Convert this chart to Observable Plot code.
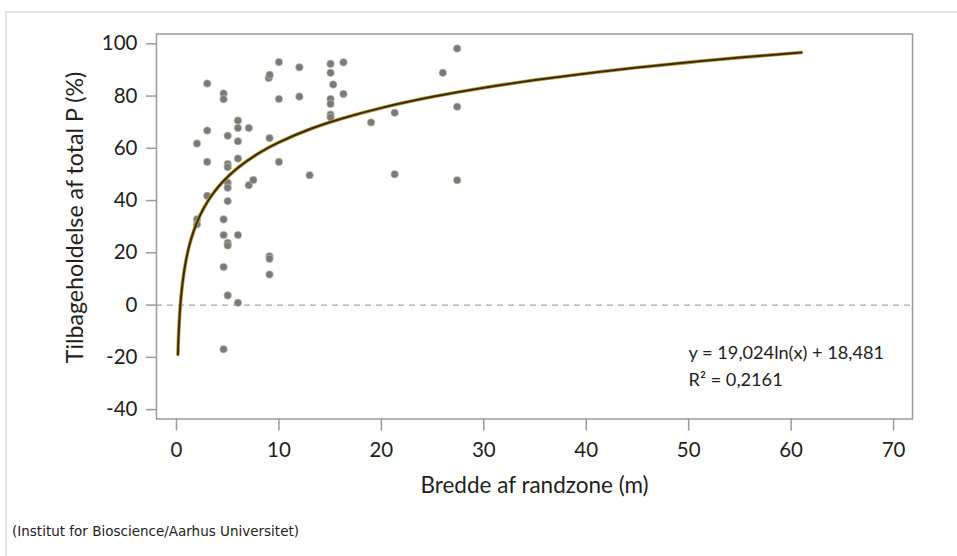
<!DOCTYPE html>
<html>
<head>
<meta charset="utf-8">
<script src="https://cdn.jsdelivr.net/npm/d3@7"></script>
<script src="https://cdn.jsdelivr.net/npm/@observablehq/plot@0.6"></script>
<style>
  html, body { margin: 0; padding: 0; background: #fff; }
  #page { position: relative; width: 957px; height: 556px; overflow: hidden; }
  #border { position: absolute; left: 5px; top: 11px; right: 0; bottom: 0;
            border-left: 2px solid #dde5e2; border-top: 2px solid #dde5e2; }
  #chart { position: absolute; left: 0; top: 0; }
  #caption { position: absolute; left: 12px; top: 522px; font-family: "DejaVu Sans", sans-serif;
             font-size: 13.5px; line-height: 18px; color: #222; }
</style>
</head>
<body>
<div id="page">
  <div id="border"></div>
  <div id="chart"></div>
  <div id="caption">(Institut for Bioscience/Aarhus Universitet)</div>
</div>
<script>
// Observed data: width of buffer zone (m) and retention of total P (%)
const widths = [
  2.0, 2.0, 2.0,
  3.0, 3.0, 3.0, 3.0,
  4.6, 4.6, 4.6, 4.6, 4.6, 4.6,
  5.0, 5.0, 5.0, 5.0, 5.0, 5.0, 5.0, 5.0, 5.0,
  6.0, 6.0, 6.0, 6.0, 6.0, 6.0,
  7.06, 7.06, 7.5,
  9.0, 9.1, 9.08, 9.08, 9.08, 9.08,
  10, 10, 10,
  12, 12, 13,
  15.04, 15.04, 15.04, 15.04, 15.04, 15.04, 15.3,
  16.3, 16.3, 19, 21.3, 21.3, 26,
  27.4, 27.4, 27.4
];
const retention = [
  61.8, 32.8, 30.9,
  84.8, 66.8, 54.8, 41.8,
  81, 78.8, 32.8, 26.8, 14.6, -16.9,
  64.8, 54.0, 52.8, 46.8, 44.9, 39.8, 23.8, 22.8, 3.7,
  70.6, 67.8, 62.7, 56.1, 26.8, 0.9,
  67.8, 45.9, 47.9,
  86.9, 88.1, 63.9, 18.7, 17.7, 11.7,
  93, 78.9, 54.8,
  91, 79.8, 49.7,
  92.3, 88.9, 78.9, 77.0, 72.9, 71.9, 84.4,
  92.9, 80.8, 69.9, 73.6, 50.1, 88.9,
  98.2, 75.9, 47.8
];
// Fitted trend line: y = 19,024 ln(x) + 18,481 (sampled along the fitted model)
const fitA = 19.024, fitB = 18.481;
const fitXs = [0.14, 0.2, 0.3, 0.4, 0.5, 0.7, 1, 1.4, 2, 2.7, 3.5, 4.5, 6, 8, 10, 13, 16, 20, 25, 30, 35, 40, 45, 50, 55, 61];
const xTicks = [0, 10, 20, 30, 40, 50, 60, 70];
const yTicks = [100, 80, 60, 40, 20, 0, -20, -40];
const xLabel = "Bredde af randzone (m)";
const yLabel = "Tilbageholdelse af total P (%)";
const eqLines = ["y = 19,024ln(x) + 18,481", "R² = 0,2161"];

const points = widths.map((w, i) => ({x: w, y: retention[i]}));
const fit = fitXs.map(x => ({x, y: fitA * Math.log(x) + fitB}));

const font = "Lato, 'Open Sans', sans-serif";
const ink = "#231f20";

const plot = Plot.plot({
  width: 957,
  height: 500,
  marginLeft: 156,
  marginRight: 45,
  marginTop: 33.5,
  marginBottom: 81.5,
  style: {fontFamily: font, fontSize: "20px", color: ink, background: "transparent"},
  x: {domain: [-1.95, 71.85], ticks: xTicks},
  y: {domain: [-43.6, 103.75], ticks: yTicks},
  marks: [
    Plot.ruleY([0], {stroke: "#a8a8a8", strokeWidth: 1.3, strokeDasharray: "6,5"}),
    Plot.dot(points, {x: "x", y: "y", r: 3.8, fill: "#7b7b73", stroke: "#c9c9c0", strokeWidth: 0.6}),
    Plot.line(fit, {x: "x", y: "y", curve: "natural", stroke: "#b89a3a", strokeWidth: 3.6}),
    Plot.line(fit, {x: "x", y: "y", curve: "natural", stroke: "#3a2c0c", strokeWidth: 2.0}),
    Plot.frame({stroke: "#999", strokeWidth: 1.5}),
    Plot.axisX({ticks: xTicks, tickSize: 12, tickPadding: 11, stroke: "#999", strokeWidth: 1.5,
      fontSize: 20.5, label: null, tickFormat: d => String(d), fill: ink}),
    Plot.axisY({ticks: yTicks, tickSize: 10, tickPadding: 9, stroke: "#999", strokeWidth: 1.5,
      fontSize: 20.5, label: null, tickFormat: d => String(d), fill: ink}),
    Plot.text([xLabel], {frameAnchor: "bottom", dy: 74, fontSize: 22.5, text: d => d, fill: ink}),
    Plot.text([yLabel], {frameAnchor: "left", textAnchor: "middle", dx: -81, dy: -9, rotate: -90, fontSize: 23.2, text: d => d, fill: ink}),
    Plot.text([eqLines[0]], {frameAnchor: "bottom-left", dx: 532, dy: -60, textAnchor: "start", fontSize: 18.2, text: d => d, fill: ink}),
    Plot.text([eqLines[1]], {frameAnchor: "bottom-left", dx: 532, dy: -33, textAnchor: "start", fontSize: 18.2, text: d => d, fill: ink})
  ]
});
document.getElementById("chart").appendChild(plot);
</script>
</body>
</html>
